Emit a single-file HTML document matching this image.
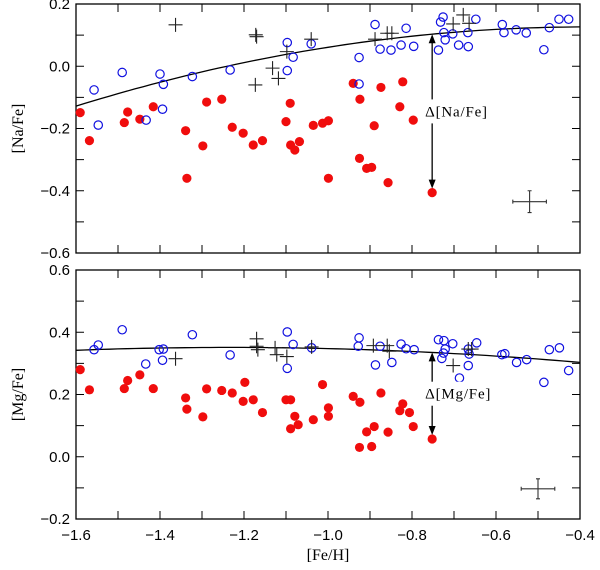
<!DOCTYPE html>
<html><head><meta charset="utf-8"><style>
html,body{margin:0;padding:0;background:#fff;}
svg{display:block;}
</style></head><body>
<svg id="chart" width="600" height="570" xmlns="http://www.w3.org/2000/svg">
<g id="g"></g>
</svg>
<script>
// ---- data ----
const naBlueFe=[-1.557,-1.547,-1.49,-1.433,-1.40,-1.392,-1.394,-1.323,-1.233,-1.097,-1.083,-1.097,-1.04,-0.888,-0.926,-0.876,-0.85,-0.826,-0.814,-0.796,-0.926,-0.737,-0.732,-0.726,-0.724,-0.721,-0.703,-0.689,-0.667,-0.666,-0.648,-0.585,-0.581,-0.552,-0.528,-0.486,-0.473,-0.45,-0.427];
const naBlueVal=[-0.076,-0.189,-0.02,-0.173,-0.025,-0.058,-0.138,-0.033,-0.012,0.076,0.029,-0.014,0.072,0.134,0.028,0.055,0.052,0.068,0.122,0.064,-0.057,0.052,0.142,0.158,0.108,0.085,0.104,0.068,0.108,0.063,0.151,0.134,0.108,0.117,0.107,0.053,0.124,0.151,0.151];
const naRedFe=[-1.59,-1.568,-1.485,-1.477,-1.448,-1.416,-1.339,-1.336,-1.298,-1.289,-1.253,-1.228,-1.202,-1.178,-1.156,-1.10,-1.09,-1.089,-1.079,-1.068,-1.035,-1.013,-0.999,-0.999,-0.94,-0.924,-0.925,-0.908,-0.896,-0.89,-0.874,-0.857,-0.829,-0.822,-0.797,-0.752];
const naRedVal=[-0.149,-0.239,-0.181,-0.147,-0.17,-0.13,-0.207,-0.36,-0.256,-0.115,-0.106,-0.196,-0.215,-0.253,-0.239,-0.178,-0.119,-0.253,-0.269,-0.242,-0.19,-0.183,-0.175,-0.36,-0.055,-0.106,-0.296,-0.328,-0.325,-0.191,-0.068,-0.374,-0.13,-0.05,-0.173,-0.406];
const naCrossFe=[-1.363,-1.172,-1.170,-1.173,-1.132,-1.118,-1.098,-1.04,-0.888,-0.859,-0.848,-0.702,-0.678,-0.664];
const naCrossVal=[0.133,0.101,0.095,-0.06,-0.006,-0.039,0.047,0.087,0.087,0.106,0.106,0.136,0.165,0.138];
const naFit=[0.101,-0.132,-0.172];
const mgBlueFe=[-1.557,-1.547,-1.49,-1.434,-1.402,-1.392,-1.394,-1.323,-1.233,-1.097,-1.083,-1.097,-1.039,-0.926,-0.928,-0.876,-0.887,-0.848,-0.826,-0.814,-0.795,-0.737,-0.724,-0.703,-0.721,-0.725,-0.729,-0.687,-0.666,-0.666,-0.664,-0.646,-0.586,-0.579,-0.551,-0.527,-0.486,-0.473,-0.449,-0.427];
const mgBlueVal=[0.344,0.359,0.408,0.298,0.344,0.346,0.31,0.392,0.327,0.401,0.361,0.284,0.35,0.382,0.355,0.355,0.295,0.303,0.362,0.347,0.344,0.376,0.373,0.363,0.346,0.333,0.316,0.253,0.293,0.346,0.33,0.366,0.328,0.331,0.303,0.312,0.239,0.344,0.35,0.277];
const mgRedFe=[-1.59,-1.568,-1.485,-1.477,-1.448,-1.416,-1.339,-1.336,-1.298,-1.289,-1.253,-1.228,-1.198,-1.202,-1.178,-1.156,-1.10,-1.089,-1.089,-1.079,-1.071,-1.035,-1.013,-0.999,-0.999,-0.94,-0.924,-0.925,-0.908,-0.89,-0.896,-0.874,-0.857,-0.829,-0.822,-0.806,-0.797,-0.752];
const mgRedVal=[0.28,0.215,0.219,0.245,0.263,0.219,0.189,0.153,0.128,0.218,0.213,0.205,0.239,0.178,0.183,0.142,0.183,0.183,0.09,0.13,0.103,0.119,0.232,0.157,0.13,0.194,0.175,0.03,0.08,0.097,0.033,0.205,0.079,0.148,0.17,0.142,0.097,0.057];
const mgCrossFe=[-1.363,-1.17,-1.17,-1.167,-1.126,-1.122,-1.098,-1.039,-0.892,-0.854,-0.859,-0.702,-0.666,-0.658];
const mgCrossVal=[0.315,0.379,0.355,0.344,0.35,0.328,0.322,0.353,0.357,0.339,0.357,0.293,0.346,0.346];
const mgFit=[0.2458,-0.171,-0.0693];
const xTicks=[-1.6,-1.4,-1.2,-1.0,-0.8,-0.6,-0.4];
const xTickLabels=["\u22121.6","\u22121.4","\u22121.2","\u22121.0","\u22120.8","\u22120.6","\u22120.4"];
const naTicks=[0.2,0.0,-0.2,-0.4,-0.6];
const naTickLabels=["0.2","0.0","\u22120.2","\u22120.4","\u22120.6"];
const mgTicks=[0.6,0.4,0.2,0.0,-0.2];
const mgTickLabels=["0.6","0.4","0.2","0.0","\u22120.2"];

const NS="http://www.w3.org/2000/svg";
const G=document.getElementById('g');
function mk(tag,attrs,parent){const e=document.createElementNS(NS,tag);for(const k in attrs)e.setAttribute(k,attrs[k]);(parent||G).appendChild(e);return e;}
const L=76,R=580,XMIN=-1.6,XMAX=-0.4;
function xs(v){return L+(v-XMIN)/(XMAX-XMIN)*(R-L);}
const panels=[
 {name:'na',top:4,bot:253,ymin:-0.6,ymax:0.2,blueF:naBlueFe,blueV:naBlueVal,redF:naRedFe,redV:naRedVal,crF:naCrossFe,crV:naCrossVal,fit:naFit,ticks:naTicks,labels:naTickLabels,title:'[Na/Fe]',delta:'\u0394[Na/Fe]',err:[-0.52,-0.435,0.04,0.035],xlab:false},
 {name:'mg',top:270,bot:519,ymin:-0.2,ymax:0.6,blueF:mgBlueFe,blueV:mgBlueVal,redF:mgRedFe,redV:mgRedVal,crF:mgCrossFe,crV:mgCrossVal,fit:mgFit,ticks:mgTicks,labels:mgTickLabels,title:'[Mg/Fe]',delta:'\u0394[Mg/Fe]',err:[-0.5,-0.103,0.04,0.032],xlab:true}
];
panels.forEach(p=>{
 const ys=v=>p.bot-(v-p.ymin)/(p.ymax-p.ymin)*(p.bot-p.top);
 const pg=mk('g',{});
 
 
 for(let v=XMIN;v<=XMAX+1e-9;v+=0.1){const x=xs(v);
  const t1=mk('line',{x1:x,y1:p.bot,x2:x,y2:p.bot-8,stroke:'#000','stroke-width':1},pg);
  
  const t2=mk('line',{x1:x,y1:p.top,x2:x,y2:p.top+8,stroke:'#000','stroke-width':1},pg);
  }
 for(let v=p.ymin;v<=p.ymax+1e-9;v+=0.1){const y=ys(v);
  const t1=mk('line',{x1:L,y1:y,x2:L+8,y2:y,stroke:'#000','stroke-width':1},pg);
  
  const t2=mk('line',{x1:R,y1:y,x2:R-8,y2:y,stroke:'#000','stroke-width':1},pg);
  }
 const fr=mk('rect',{x:L,y:p.top,width:R-L,height:p.bot-p.top,fill:'none',stroke:'#000','stroke-width':1.3},pg);
 
 p.ticks.forEach((v,i)=>{const t=mk('text',{x:L-6,y:ys(v)+5,'text-anchor':'end','font-family':'Liberation Sans, sans-serif','font-size':15},pg);t.textContent=p.labels[i];
  });
 const yt=mk('text',{x:0,y:0,transform:`translate(23,${(p.top+p.bot)/2}) rotate(-90)`,'text-anchor':'middle','font-family':'Liberation Serif, serif','font-size':16},pg);yt.textContent=p.title;
 
 if(p.xlab){xTicks.forEach((v,i)=>{const t=mk('text',{x:xs(v),y:p.bot+21,'text-anchor':'middle','font-family':'Liberation Sans, sans-serif','font-size':15},pg);t.textContent=xTickLabels[i];
  });
  const xt=mk('text',{x:(L+R)/2,y:p.bot+41,'text-anchor':'middle','font-family':'Liberation Serif, serif','font-size':16},pg);xt.textContent='[Fe/H]';
  }
 let d='';for(let i=0;i<=60;i++){const v=XMIN+(XMAX-XMIN)*i/60;const y=p.fit[0]+p.fit[1]*v+p.fit[2]*v*v;d+=(i?'L':'M')+xs(v).toFixed(1)+' '+ys(y).toFixed(1);}
 const fl=mk('path',{d:d,fill:'none',stroke:'#000','stroke-width':1.3},pg);
 
 p.redF.forEach((f,i)=>{const c=mk('circle',{cx:xs(f),cy:ys(p.redV[i]),r:4.6,fill:'#f00d0d'},pg);
  });
 p.blueF.forEach((f,i)=>{const c=mk('circle',{cx:xs(f),cy:ys(p.blueV[i]),r:4.2,fill:'none',stroke:'#1010e0','stroke-width':1.2},pg);
  });
 p.crF.forEach((f,i)=>{const x=xs(f),y=ys(p.crV[i]);const c=mk('path',{d:`M${x-7} ${y}H${x+7}M${x} ${y-7}V${y+7}`,stroke:'#222','stroke-width':1.1,fill:'none'},pg);
  });
 const e=p.err,ex=xs(e[0]),ey=ys(e[1]),dx=xs(e[0]+e[2])-ex,dy=ys(e[1])-ys(e[1]+e[3]);
 const eb=mk('path',{d:`M${ex-dx} ${ey}H${ex+dx}M${ex} ${ey-dy}V${ey+dy}M${ex-dx} ${ey-2}V${ey+2}M${ex+dx} ${ey-2}V${ey+2}M${ex-2} ${ey-dy}H${ex+2}M${ex-2} ${ey+dy}H${ex+2}`,stroke:'#333','stroke-width':1.1,fill:'none'},pg);
 
 const ax=xs(-0.752),topV=p.fit[0]+p.fit[1]*-0.752+p.fit[2]*0.752*0.752;
 const ay1=ys(topV),ay2=ys(p.redV[p.redV.length-1])-4;
 const ar=mk('path',{d:`M${ax} ${ay1+6}V${ay2-6}`,stroke:'#000','stroke-width':1.3},pg);
 
 const h1=mk('path',{d:`M${ax} ${ay1}L${ax-3.5} ${ay1+9}L${ax+3.5} ${ay1+9}Z`,fill:'#000'},pg);
 
 const h2=mk('path',{d:`M${ax} ${ay2}L${ax-3.5} ${ay2-9}L${ax+3.5} ${ay2-9}Z`,fill:'#000'},pg);
 
 const my=(ay1+ay2)/2;
 const bg=mk('rect',{x:ax-9,y:my-12,width:70,height:24,fill:'#fff'},pg);
 
 const dl=mk('text',{x:ax-7,y:my+5,'text-anchor':'start','font-family':'Liberation Serif, serif','font-size':15,'letter-spacing':'0.8'},pg);dl.textContent=p.delta;
 
});
</script>
</body></html>
